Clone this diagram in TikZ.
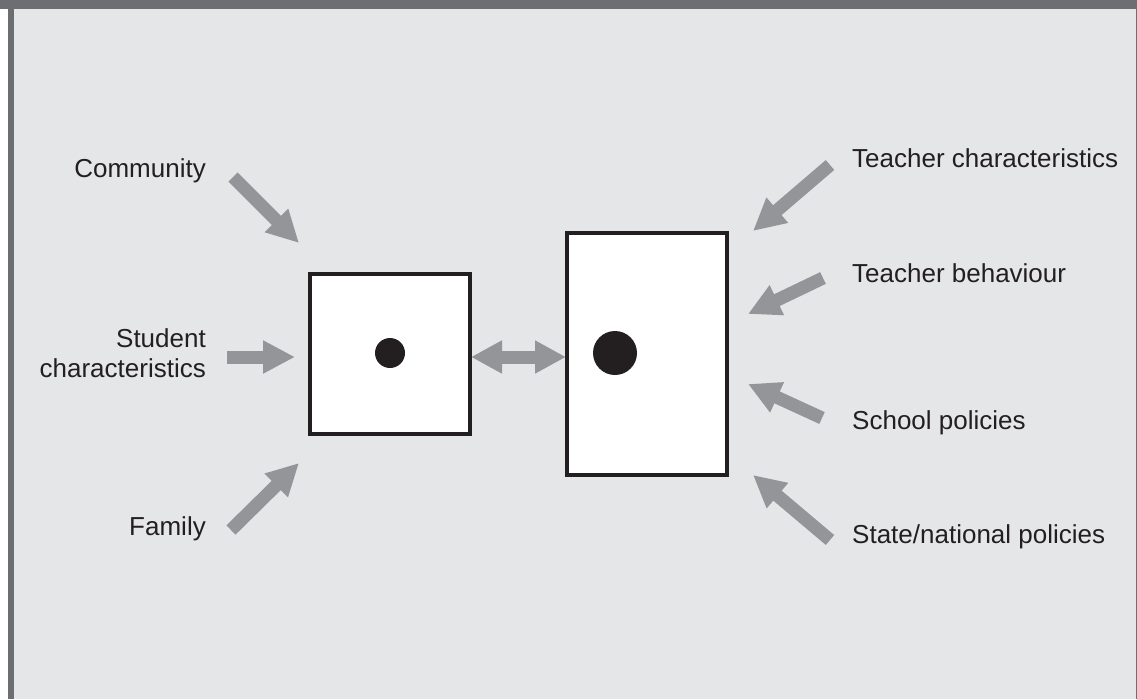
\documentclass[tikz,border=0pt]{standalone}
\usepackage{fontspec}
\setmainfont{Liberation Sans}
\usetikzlibrary{arrows.meta}
\definecolor{bandgray}{HTML}{6D6E72}
\definecolor{panelgray}{HTML}{E5E6E8}
\definecolor{arrowgray}{HTML}{939598}
\definecolor{inkblack}{HTML}{231F20}
\begin{document}
\begin{tikzpicture}[x=1pt,y=-1pt]
	\tikzset{
		fat/.style={draw=arrowgray,line width=13pt,-{Triangle[width=31pt,length=32pt]}},
		fatboth/.style={draw=arrowgray,line width=13pt,{Triangle[width=31pt,length=31pt]}-{Triangle[width=31pt,length=31pt]}},
		box/.style={draw=inkblack,line width=4pt,fill=white,inner sep=0pt},
		lbl/.style={inner sep=0pt,text=inkblack,font=\fontsize{26}{30}\selectfont}
	}
	\useasboundingbox (0,0) rectangle (1137,699);
	% frame
	\fill[white] (0,0) rectangle (1137,699);
	\fill[bandgray] (0,0) rectangle (1137,9);
	\fill[bandgray] (8,9) rectangle (14,699);
	\fill[bandgray] (1135.5,9) rectangle (1137,699);
	\fill[panelgray] (14,9) rectangle (1135.5,699);

	% the two boxes
	\node[box,minimum width=160pt,minimum height=160pt] (student) at (390,354) {};
	\node[box,minimum width=160pt,minimum height=242pt] (teacher) at (647,354) {};
	\fill[inkblack] (390,353) circle (15pt);
	\fill[inkblack] (615,353) circle (22pt);

	% labels
	\node[lbl,anchor=base east] (comm) at (206,177) {Community};
	\node[lbl,anchor=base east,align=right] (stud) at (206,377) {Student\\characteristics};
	\node[lbl,anchor=base east] (fam) at (206,535) {Family};
	\node[lbl,anchor=base west] (tchar) at (852,167) {Teacher characteristics};
	\node[lbl,anchor=base west] (tbeh) at (852,282) {Teacher behaviour};
	\node[lbl,anchor=base west] (spol) at (852,429) {School policies};
	\node[lbl,anchor=base west] (snat) at (852,543) {State/national policies};

	% arrow ends
	\coordinate (comm-t) at (233,177);
	\coordinate (comm-h) at (299,243);
	\coordinate (stud-t) at (227,357);
	\coordinate (stud-h) at (295,357);
	\coordinate (fam-t) at (231,530);
	\coordinate (fam-h) at (299,463);
	\coordinate (tchar-t) at (830,165);
	\coordinate (tchar-h) at (753,231);
	\coordinate (tbeh-t) at (823,278);
	\coordinate (tbeh-h) at (748,314);
	\coordinate (spol-t) at (822,418);
	\coordinate (spol-h) at (748,384);
	\coordinate (snat-t) at (830,540);
	\coordinate (snat-h) at (753,475);

	\draw[fat] (comm-t) -- (comm-h);
	\draw[fat] (stud-t) -- (stud-h);
	\draw[fat] (fam-t) -- (fam-h);
	\draw[fat] (tchar-t) -- (tchar-h);
	\draw[fat] (tbeh-t) -- (tbeh-h);
	\draw[fat] (spol-t) -- (spol-h);
	\draw[fat] (snat-t) -- (snat-h);

	\draw[fatboth] ([xshift=-1pt]student.east |- 0,357) -- ([xshift=1pt]teacher.west |- 0,357);
\end{tikzpicture}
\end{document}
